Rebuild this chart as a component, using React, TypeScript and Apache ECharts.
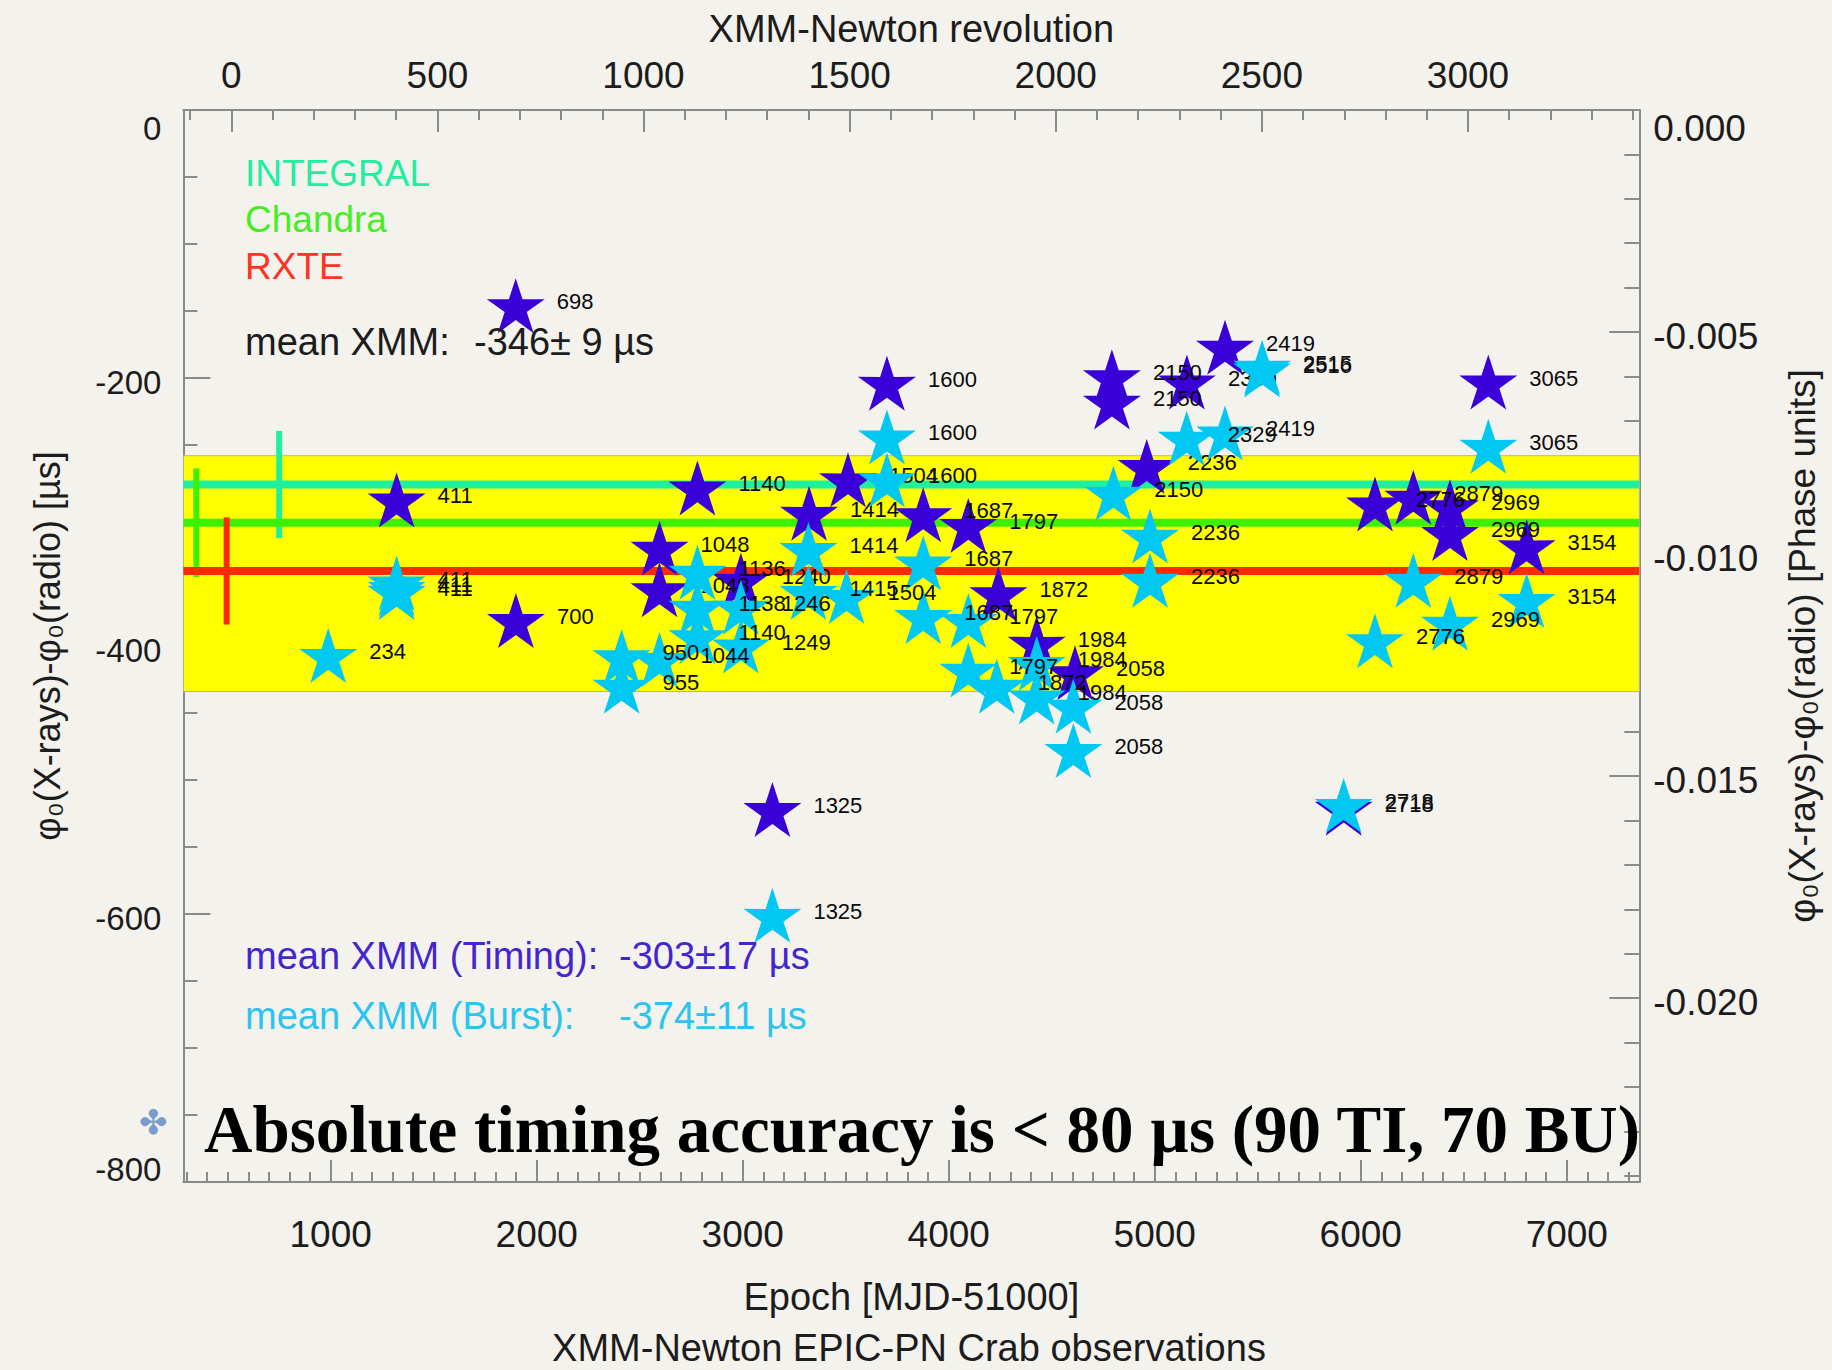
import React, { useEffect, useRef } from 'react';
import * as echarts from 'echarts';

// ---------- data ----------
// XMM-Newton EPIC-pn Timing mode (MJD-51000, delay in µs, revolution)
const timingMjd = [1898, 1320, 1899, 2780, 2596, 2596, 2991, 3322, 3511, 3700, 3876, 4095, 4241, 4427, 4613, 4792, 4792, 4961, 5156, 5341, 5917, 6069, 6255, 6433, 6433, 6619, 6805, 3144];
const timingDelay = [-146, -291, -381, -282, -327, -358, -351, -301, -276, -204, -302, -310, -361, -398, -420, -199, -218, -266, -203, -177, -521, -294, -289, -296, -316, -203, -326, -522];
const timingRev = ['698', '411', '700', '1140', '1048', '1048', '1240', '1414', '1504', '1600', '1687', '1797', '1872', '1984', '2058', '2150', '2150', '2236', '2330', '2419', '2718', '2776', '2879', '2969', '2969', '3065', '3154', '1325'];

// XMM-Newton EPIC-pn Burst mode
const burstMjd = [988, 1320, 1320, 1320, 2412, 2412, 2596, 2780, 2780, 2780, 2991, 2991, 3319, 3319, 3504, 3700, 3700, 3876, 3876, 4095, 4095, 4233, 4427, 4427, 4605, 4605, 4799, 4977, 4977, 5155, 5341, 5521, 5521, 5917, 6069, 6255, 6433, 6619, 6805, 3144];
const burstDelay = [-407, -353, -357, -360, -408, -430, -410, -345, -371, -393, -371, -400, -328, -360, -363, -244, -276, -338, -378, -381, -418, -430, -413, -438, -445, -478, -286, -318, -351, -245, -241, -192, -194, -519, -396, -351, -383, -251, -366, -601];
const burstRev = ['234', '411', '411', '411', '950', '955', '1044', '1136', '1138', '1140', '1246', '1249', '1414', '1415', '1504', '1600', '1600', '1687', '1687', '1797', '1797', '1872', '1984', '1984', '2058', '2058', '2150', '2236', '2236', '2329', '2419', '2515', '2516', '2718', '2776', '2879', '2969', '3065', '3154', '1325'];

// other missions: mean delay, error-bar epoch, error-bar half length
const instruments = ['INTEGRAL', 'Chandra', 'RXTE'];
const instrumentDelay = [-279.5, -308, -344];
const instrumentErrMjd = [750, 348, 495];
const instrumentErr = [40, 40.5, 40];

// mean XMM band
const xmmBandTop = -258;
const xmmBandBottom = -434;

// axes
const mjdRange = [285, 7352];
const revRange = [-116.2, 3415.6];
const delayRange = [-800, 0];
const phaseRange = [-0.02414, 0];
const mjdTicks = [1000, 2000, 3000, 4000, 5000, 6000, 7000];
const revTicks = [0, 500, 1000, 1500, 2000, 2500, 3000];
const phaseTicks = [0, -0.005, -0.01, -0.015, -0.02];

const mjdMinor: number[] = [];
for (let v = 300; v <= 7300; v += 100) if (v % 1000 !== 0) mjdMinor.push(v);
const revMinor: number[] = [];
for (let v = -100; v <= 3400; v += 100) if (v % 500 !== 0) revMinor.push(v);
const phaseMinor: number[] = [];
for (let k = 1; k <= 24; k++) if (k % 5 !== 0) phaseMinor.push(-k / 1000);

// ---------- styles ----------
const SANS = "'Liberation Sans', Arial, Helvetica, sans-serif";
const SERIF = "'Liberation Serif', 'Times New Roman', serif";
const BG = '#f4f2ed';
const AXIS = '#8a8a8a';
const TXT = '#1c1c1c';
const TIMING = '#3a00d8';
const BURST = '#00c8f2';
const instrumentColors = ['#1ff0a0', '#3cf000', '#ff2a00'];
const STAR = 'path://M50 0 L61.17 34.63 L97.55 34.55 L68.07 55.87 L79.39 90.45 L50 69 L20.61 90.45 L31.93 55.87 L2.45 34.55 L38.83 34.63 Z';

const starLabel = {
  show: true,
  position: 'right',
  distance: 12,
  offset: [0, -4],
  formatter: (p: any) => String(p.value[2]),
  fontSize: 22,
  fontFamily: SANS,
  color: '#0a0a0a',
};

function buildOption(): any {
  const tickLine = { color: AXIS, width: 2 };
  const xAxes = [
    {
      type: 'value', position: 'bottom', min: mjdRange[0], max: mjdRange[1],
      axisLine: { show: true, onZero: false, lineStyle: tickLine },
      axisTick: { show: true, inside: true, length: 22, customValues: mjdTicks, lineStyle: tickLine },
      axisLabel: { customValues: mjdTicks, margin: 34, fontSize: 37, color: TXT, fontFamily: SANS, formatter: (v: number) => String(v) },
      splitLine: { show: false },
      name: 'Epoch [MJD-51000]', nameLocation: 'middle', nameGap: 96, nameMoveOverlap: false,
      nameTextStyle: { fontSize: 38, color: TXT, fontFamily: SANS },
    },
    {
      type: 'value', position: 'bottom', min: mjdRange[0], max: mjdRange[1],
      axisLine: { show: false, onZero: false },
      axisTick: { show: true, inside: true, length: 10, customValues: mjdMinor, lineStyle: tickLine },
      axisLabel: { show: false }, splitLine: { show: false },
    },
    {
      type: 'value', position: 'top', min: revRange[0], max: revRange[1],
      axisLine: { show: true, onZero: false, lineStyle: tickLine },
      axisTick: { show: true, inside: true, length: 22, customValues: revTicks, lineStyle: tickLine },
      axisLabel: { customValues: revTicks, margin: 16, fontSize: 37, color: TXT, fontFamily: SANS, formatter: (v: number) => String(v) },
      splitLine: { show: false },
      name: 'XMM-Newton revolution', nameLocation: 'middle', nameGap: 62, nameMoveOverlap: false,
      nameTextStyle: { fontSize: 38, color: TXT, fontFamily: SANS },
    },
    {
      type: 'value', position: 'top', min: revRange[0], max: revRange[1],
      axisLine: { show: false, onZero: false },
      axisTick: { show: true, inside: true, length: 10, customValues: revMinor, lineStyle: tickLine },
      axisLabel: { show: false }, splitLine: { show: false },
    },
  ];

  const yAxes = [
    {
      type: 'value', position: 'left', min: delayRange[0], max: delayRange[1], interval: 200,
      axisLine: { show: true, onZero: false, lineStyle: tickLine },
      axisTick: { show: true, inside: true, length: 27, lineStyle: tickLine },
      minorTick: { show: true, splitNumber: 4, length: 14, lineStyle: tickLine },
      axisLabel: {
        margin: 22, fontSize: 33, color: TXT, fontFamily: SANS,
        formatter: (v: number) => (v === 0 ? '{t|0}' : v === -800 ? '{b|-800}' : '{n|' + v + '}'),
        rich: {
          t: { fontSize: 33, color: TXT, fontFamily: SANS, padding: [36, 0, 0, 0] },
          b: { fontSize: 33, color: TXT, fontFamily: SANS, padding: [0, 0, 26, 0] },
          n: { fontSize: 33, color: TXT, fontFamily: SANS, padding: [8, 0, 0, 0] },
        },
      },
      splitLine: { show: false },
      name: 'φ₀(X-rays)-φ₀(radio) [µs]', nameLocation: 'middle', nameRotate: 90, nameGap: 118, nameMoveOverlap: false,
      nameTextStyle: { fontSize: 36, color: TXT, fontFamily: SANS },
    },
    {
      type: 'value', position: 'right', min: phaseRange[0], max: phaseRange[1],
      axisLine: { show: true, onZero: false, lineStyle: tickLine },
      axisTick: { show: true, inside: true, length: 30, customValues: phaseTicks, lineStyle: tickLine },
      axisLabel: {
        customValues: phaseTicks, margin: 14, fontSize: 37, color: TXT, fontFamily: SANS,
        formatter: (v: number) => (v === 0 ? '{t|0.000}' : '{n|' + v.toFixed(3) + '}'),
        rich: {
          t: { fontSize: 37, color: TXT, fontFamily: SANS, padding: [37, 0, 0, 0] },
          n: { fontSize: 37, color: TXT, fontFamily: SANS, padding: [8, 0, 0, 0] },
        },
      },
      splitLine: { show: false },
      name: 'φ₀(X-rays)-φ₀(radio) [Phase units]', nameLocation: 'middle', nameRotate: 90, nameGap: 145, nameMoveOverlap: false,
      nameTextStyle: { fontSize: 37, color: TXT, fontFamily: SANS },
    },
    {
      type: 'value', position: 'right', min: phaseRange[0], max: phaseRange[1],
      axisLine: { show: false, onZero: false },
      axisTick: { show: true, inside: true, length: 15, customValues: phaseMinor, lineStyle: tickLine },
      axisLabel: { show: false }, splitLine: { show: false },
    },
  ];

  const series: any[] = [];
  // yellow band
  series.push({
    type: 'line', silent: true, z: 1, showSymbol: false, symbol: 'none',
    data: [[mjdRange[0], (xmmBandTop + xmmBandBottom) / 2], [mjdRange[1], (xmmBandTop + xmmBandBottom) / 2]],
    lineStyle: { width: 0, opacity: 0 },
    markArea: {
      silent: true,
      itemStyle: { color: '#ffff00', borderColor: '#b4b49a', borderWidth: 1 },
      data: [[{ yAxis: xmmBandTop }, { yAxis: xmmBandBottom }]],
    },
  });
  // other missions: horizontal level + vertical error bar
  instruments.forEach((name, i) => {
    series.push({
      type: 'line', name, silent: true, z: 2, symbol: 'none',
      data: [[mjdRange[0], instrumentDelay[i]], [mjdRange[1], instrumentDelay[i]]],
      lineStyle: { width: 8, color: instrumentColors[i] },
    });
    series.push({
      type: 'line', name: name + ' err', silent: true, z: 2, symbol: 'none',
      data: [[instrumentErrMjd[i], instrumentDelay[i] - instrumentErr[i]], [instrumentErrMjd[i], instrumentDelay[i] + instrumentErr[i]]],
      lineStyle: { width: 6, color: instrumentColors[i] },
    });
  });
  series.push({
    type: 'scatter', name: 'Timing', silent: true, z: 3,
    symbol: STAR, symbolSize: [58, 55],
    itemStyle: { color: TIMING, opacity: 1 },
    label: starLabel,
    data: timingMjd.map((m, i) => [m, timingDelay[i], timingRev[i]]),
  });
  series.push({
    type: 'scatter', name: 'Burst', silent: true, z: 4,
    symbol: STAR, symbolSize: [58, 55],
    itemStyle: { color: BURST, opacity: 1 },
    label: starLabel,
    data: burstMjd.map((m, i) => [m, burstDelay[i], burstRev[i]]),
  });

  const txt = (text: string, x: number, y: number, fill: string, fontSize = 38, extra: any = {}) => ({
    type: 'text', x, y, z: 100, silent: true,
    style: { text, fill, fontSize, fontFamily: SANS, align: 'left', verticalAlign: 'middle', ...extra },
  });

  const graphic = [
    txt('INTEGRAL', 245, 173, '#22eea0', 37),
    txt('Chandra', 245, 219, '#44ee22', 37),
    txt('RXTE', 245, 266, '#ff3322', 37),
    txt('mean XMM:', 245, 342, TXT, 38),
    txt('-346± 9 µs', 474, 342, TXT, 38),
    txt('mean XMM (Timing):', 245, 956, '#4326d0', 38),
    txt('-303±17 µs', 619, 956, '#4326d0', 38),
    txt('mean XMM (Burst):', 245, 1016, '#2cc4ee', 38),
    txt('-374±11 µs', 619, 1016, '#2cc4ee', 38),
    txt('✤', 139, 1122, '#7a9ccc', 34, { fontFamily: "'DejaVu Sans', sans-serif" }),
    txt('Absolute timing accuracy is < 80 µs (90 TI, 70 BU)', 204, 1129, '#000', 67, { fontFamily: SERIF, fontWeight: 'bold' }),
    txt('XMM-Newton EPIC-PN Crab observations', 909, 1348, TXT, 38, { align: 'center' }),
  ];

  return {
    animation: false,
    backgroundColor: BG,
    grid: { left: 183.4, right: 192.7, top: 110, bottom: 188, containLabel: false },
    xAxis: xAxes,
    yAxis: yAxes,
    series,
    graphic,
  };
}

export default function App() {
  const ref = useRef<HTMLDivElement>(null);
  useEffect(() => {
    const chart = echarts.init(ref.current as HTMLDivElement, null, { renderer: 'svg' });
    chart.setOption(buildOption());
    return () => chart.dispose();
  }, []);
  return (
    <div
      ref={ref}
      style={{ position: 'fixed', left: 0, top: 0, width: 1832, height: 1370, background: BG }}
    />
  );
}
